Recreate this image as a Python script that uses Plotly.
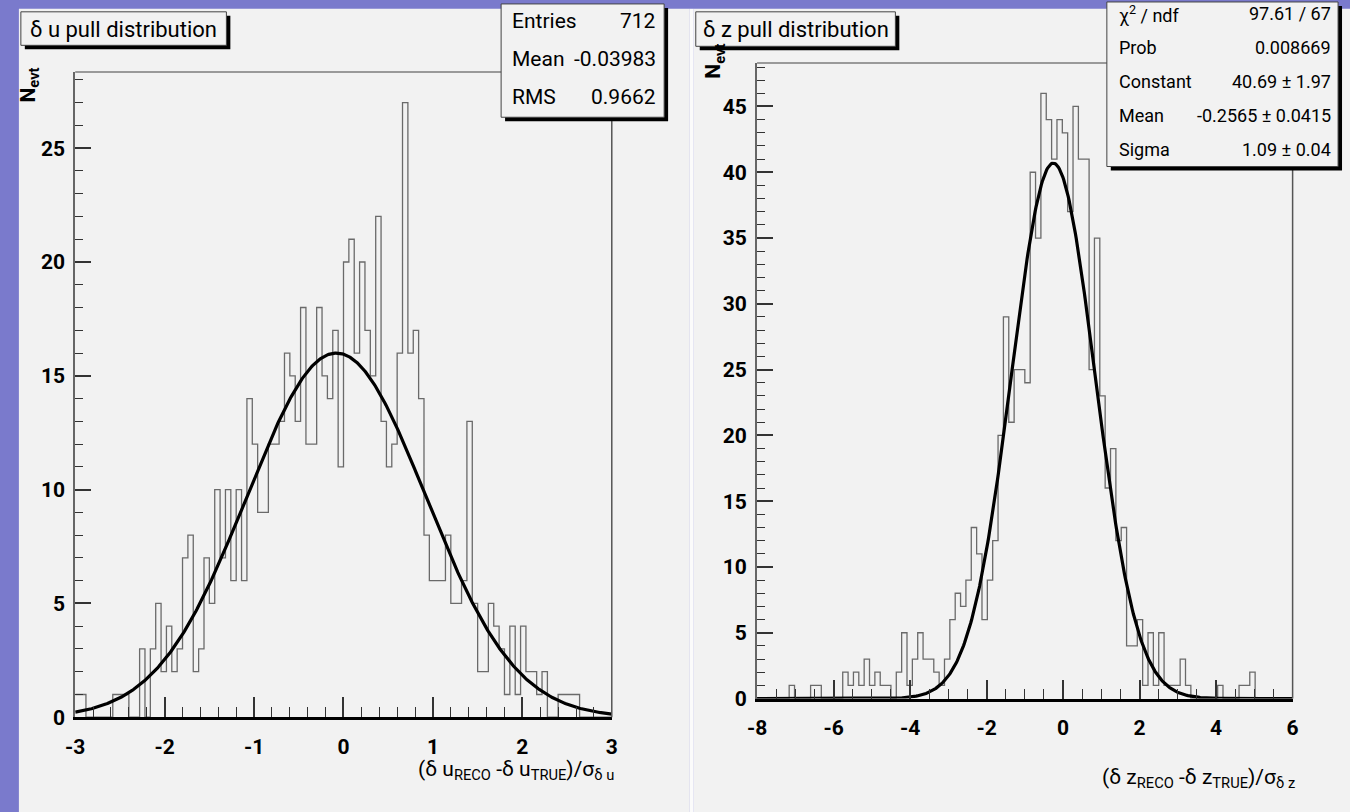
import numpy as np
import plotly.graph_objects as go

W, H = 1350, 812

# ---------------- data ----------------
# left: delta-u pull, 100 bins on [-3, 3]
u_lo, u_hi, u_nbins = -3.0, 3.0, 100
u_counts = [1, 1, 0, 0, 0, 0, 0, 1, 1, 1,
            0, 0, 3, 0, 3, 5, 2, 4, 2, 3,
            7, 8, 2, 3, 7, 5, 10, 7, 10, 6,
            10, 6, 14, 12, 9, 9, 12, 12, 13, 16,
            15, 13, 18, 12, 12, 18, 15, 14, 17, 11,
            20, 21, 16, 20, 17, 15, 22, 13, 11, 12,
            16, 27, 16, 17, 14, 8, 6, 6, 6, 8,
            5, 5, 6, 13, 5, 2, 2, 5, 4, 3,
            1, 4, 1, 4, 2, 2, 1, 2, 0, 0,
            1, 1, 1, 1, 0, 0, 0, 0, 0, 0]
# right: delta-z pull, 100 bins on [-8, 6]
z_lo, z_hi, z_nbins = -8.0, 6.0, 100
z_counts = [0, 0, 0, 0, 0, 0, 1, 0, 0, 0,
            1, 1, 0, 0, 0, 0, 2, 1, 2, 1,
            3, 1, 2, 1, 1, 0, 2, 5, 1, 3,
            5, 3, 3, 2, 1, 3, 6, 8, 7, 9,
            13, 11, 6, 9, 12, 20, 29, 21, 25, 25,
            24, 40, 35, 46, 44, 41, 44, 43, 37, 45,
            41, 41, 25, 35, 23, 16, 19, 12, 13, 4,
            4, 6, 1, 5, 1, 5, 1, 1, 1, 3,
            1, 0, 0, 0, 0, 0, 1, 0, 0, 0,
            1, 1, 2, 0, 0, 0, 0, 0, 0, 0]

# gaussian fit parameters
u_fit_const, u_fit_mean, u_fit_sigma = 16.0, -0.08, 1.0
z_fit_const, z_fit_mean, z_fit_sigma = 40.69, -0.2565, 1.09

u_xticks = [-3, -2, -1, 0, 1, 2, 3]
u_xlabels = ["-3", "-2", "-1", "0", "1", "2", "3"]
z_xticks = [-8, -6, -4, -2, 0, 2, 4, 6]
z_xlabels = ["-8", "-6", "-4", "-2", "0", "2", "4", "6"]
u_yticks = [0, 5, 10, 15, 20, 25]
z_yticks = [0, 5, 10, 15, 20, 25, 30, 35, 40, 45]

u_stats = [("Entries", "712"), ("Mean", "-0.03983"), ("RMS", "0.9662")]
z_stats = [("χ<sup>2</sup> / ndf", "97.61 / 67"), ("Prob", "0.008669"),
           ("Constant", "40.69 ± 1.97"), ("Mean", "-0.2565 ± 0.0415"),
           ("Sigma", "1.09 ± 0.04")]

u_title = "δ u pull distribution"
z_title = "δ z pull distribution"
u_xtitle = "(δ u<sub>RECO</sub> -δ u<sub>TRUE</sub>)/σ<sub>δ u</sub>"
z_xtitle = "(δ z<sub>RECO</sub> -δ z<sub>TRUE</sub>)/σ<sub>δ z</sub>"
ytitle = "N<sub>evt</sub>"

FONT = "Roboto, Liberation Sans, Arial, sans-serif"


def px(x):
    return x / W


def py(y):
    return 1 - y / H


def step_xy(lo, hi, n, counts):
    edges = np.linspace(lo, hi, n + 1)
    return edges, list(counts) + [counts[-1]]


def gauss(lo, hi, c, m, s):
    xs = np.linspace(lo, hi, 600)
    return xs, c * np.exp(-0.5 * ((xs - m) / s) ** 2)


fig = go.Figure()

ux, uy = step_xy(u_lo, u_hi, u_nbins, u_counts)
fig.add_trace(go.Scatter(x=ux, y=uy, mode="lines", line=dict(shape="hv", color="#6a6a6a", width=1.3),
                         xaxis="x", yaxis="y", hoverinfo="skip", showlegend=False))
gx, gy = gauss(u_lo, u_hi, u_fit_const, u_fit_mean, u_fit_sigma)
fig.add_trace(go.Scatter(x=gx, y=gy, mode="lines", line=dict(color="black", width=3.2),
                         xaxis="x", yaxis="y", hoverinfo="skip", showlegend=False))

zx, zy = step_xy(z_lo, z_hi, z_nbins, z_counts)
fig.add_trace(go.Scatter(x=zx, y=zy, mode="lines", line=dict(shape="hv", color="#6a6a6a", width=1.3),
                         xaxis="x2", yaxis="y2", hoverinfo="skip", showlegend=False))
gx2, gy2 = gauss(z_lo, z_hi, z_fit_const, z_fit_mean, z_fit_sigma)
fig.add_trace(go.Scatter(x=gx2, y=gy2, mode="lines", line=dict(color="black", width=3.2),
                         xaxis="x2", yaxis="y2", hoverinfo="skip", showlegend=False))

tickfont = dict(family=FONT, size=21, color="black", weight="bold")


def xaxis_cfg(dom, rng, vals, labels, dminor, tlen, anchor):
    return dict(domain=dom, range=rng, anchor=anchor, tickmode="array", tickvals=vals, ticktext=labels,
                ticks="inside", ticklen=tlen, tickwidth=1.5, tickcolor="#333",
                minor=dict(ticks="inside", ticklen=tlen / 2, dtick=dminor, tickwidth=1.2, tickcolor="#333",
                           showgrid=False),
                showgrid=False, zeroline=False, showline=True, linecolor="black", linewidth=2.5,
                tickfont=tickfont, ticklabelstandoff=9, fixedrange=True)


def yaxis_cfg(dom, rng, vals, tlen, anchor):
    return dict(domain=dom, range=rng, anchor=anchor, tickmode="array", tickvals=vals,
                ticktext=[str(v) for v in vals],
                ticks="inside", ticklen=tlen, tickwidth=1.5, tickcolor="#333",
                minor=dict(ticks="inside", ticklen=tlen / 2, dtick=1, tickwidth=1.2, tickcolor="#333",
                           showgrid=False),
                showgrid=False, zeroline=False, showline=True, linecolor="#666", linewidth=2,
                tickfont=tickfont, ticklabelstandoff=4, fixedrange=True)


u_ymax = 1.05 * max(u_counts)
z_ymax = 1.05 * max(z_counts)

fig.update_layout(
    width=W, height=H, autosize=False, margin=dict(l=0, r=0, t=0, b=0, pad=0),
    paper_bgcolor="#7a7acc", plot_bgcolor="rgba(0,0,0,0)",
    xaxis=xaxis_cfg([px(66), px(609)], [u_lo, u_hi], u_xticks, u_xlabels, 0.2, 20, "y"),
    yaxis=yaxis_cfg([py(728), py(73)], [0, u_ymax], u_yticks, 16, "x"),
    xaxis2=xaxis_cfg([px(756), px(1298)], [z_lo, z_hi], z_xticks, z_xlabels, 0.5, 19, "y2"),
    yaxis2=yaxis_cfg([py(709), py(64)], [0, z_ymax], z_yticks, 16, "x2"),
)

shapes = []


def rect(x0, y0, x1, y1, fill, line=None, lw=0, layer="below"):
    shapes.append(dict(type="rect", xref="paper", yref="paper", x0=px(x0), x1=px(x1), y0=py(y1), y1=py(y0),
                       fillcolor=fill, line=dict(color=line or fill, width=lw), layer=layer))


# slide panels (extend past the page edge so no gap remains)
rect(9, 9, 688, 840, "#f2f2f2")
rect(692, 9, 1380, 840, "#f2f2f2")
rect(688, 9, 692, 840, "#fbfbfb")

# frame top/right lines
for (xa, ya) in (("x", "y"), ("x2", "y2")):
    shapes.append(dict(type="line", xref=xa + " domain", yref=ya + " domain", x0=0, x1=1, y0=1, y1=1,
                       line=dict(color="#9a9a9a", width=2), layer="above"))
    shapes.append(dict(type="line", xref=xa + " domain", yref=ya + " domain", x0=1, x1=1, y0=0, y1=1,
                       line=dict(color="#555", width=1.5), layer="above"))


def box(x0, y0, x1, y1):
    rect(x0 + 4, y0 + 4, x1 + 4, y1 + 4, "black", layer="above")
    rect(x0, y0, x1, y1, "#f2f2f2", line="#444", lw=1, layer="above")


annotations = []


def text(x, y, s, size, xanchor="left", weight="normal", angle=0):
    annotations.append(dict(x=px(x), y=py(y), xref="paper", yref="paper", text=s, showarrow=False,
                            xanchor=xanchor, yanchor="middle", textangle=angle,
                            font=dict(family=FONT, size=size, color="black", weight=weight)))


# title boxes
box(11, 12, 219, 46)
text(115, 30, u_title, 22, "center")
box(694, 12, 896, 47)
text(795, 30, z_title, 22, "center")

# stats boxes
box(497, 4, 662, 119)
for i, (k, v) in enumerate(u_stats):
    text(506, 21 + 38.5 * i, k, 21)
    text(656, 21 + 38.5 * i, v, 21, "right")
box(1110, 2, 1344, 169)
for i, (k, v) in enumerate(z_stats):
    text(1120, 14 + 34.5 * i, k, 18)
    text(1339, 14 + 34.5 * i, v, 18, "right")

# axis titles
text(613, 782, u_xtitle, 21, "right")
text(1302, 790, z_xtitle, 21, "right")
text(20, 86, ytitle, 21, "center", weight="bold", angle=-90)
text(713, 62, ytitle, 21, "center", weight="bold", angle=-90)

fig.update_layout(shapes=shapes, annotations=annotations)
fig.write_html("out.html")
